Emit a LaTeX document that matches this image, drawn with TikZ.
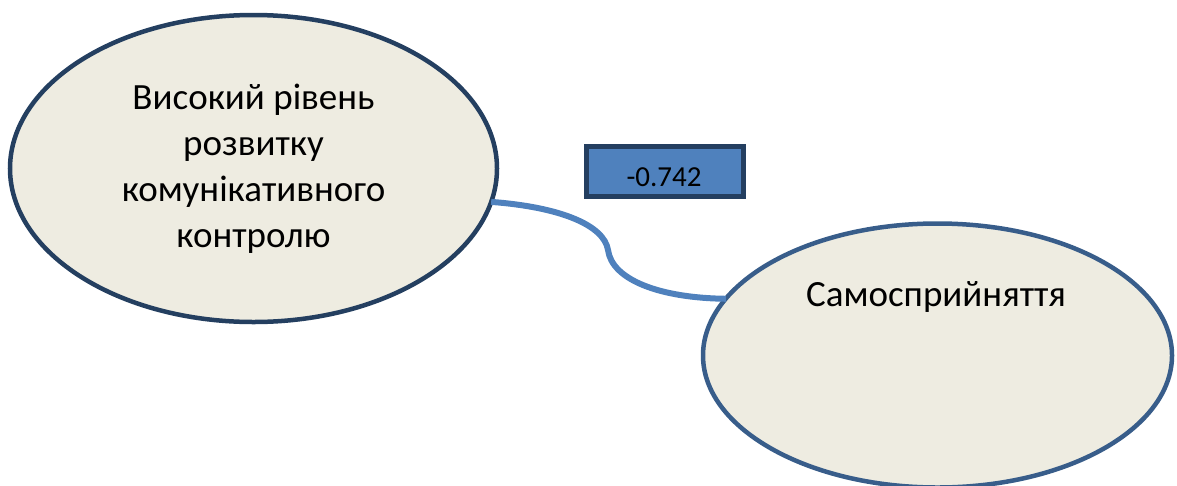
\documentclass[tikz,border=0pt]{standalone}
\usepackage{fontspec}
\setmainfont{Carlito}
\usetikzlibrary{shapes.geometric}
\definecolor{ellfill}{HTML}{EEECE1}
\definecolor{navy}{HTML}{243F60}
\definecolor{midblue}{HTML}{385D8A}
\definecolor{accent}{HTML}{4F81BD}
\tikzset{
  bubble/.style={ellipse, fill=ellfill, line width=4.5pt, inner sep=0pt, outer sep=0pt},
  valbox/.style={rectangle, fill=accent, draw=navy, line width=4.5pt, inner sep=0pt, outer sep=0pt, minimum width=157pt, minimum height=50pt},
  link/.style={draw=accent, line width=6pt},
  bigtext/.style={font=\fontsize{37}{46}\selectfont, align=center, text=black}
}
\begin{document}
\begin{tikzpicture}[x=1pt,y=-1pt]
\useasboundingbox (0,0) rectangle (1177,485);
\node[bubble, draw=navy, minimum width=487pt, minimum height=307pt, bigtext] (L) at (253.5,168.5)
  {Високий рівень\\розвитку\\комунікативного\\контролю};
\node[bubble, draw=midblue, minimum width=469pt, minimum height=264pt] (R) at (937.5,355.5) {};
\node[bigtext, anchor=base] (Rt) at (936,306) {Самосприйняття};
\node[valbox] (V) at (665,171.5) {};
\node[font=\fontsize{29}{32}\selectfont, anchor=base] (Vt) at (664,186) {-0.742};
\draw[link] (L.-8.6) .. controls (560,207) and (604,225) .. (608,250)
  .. controls (612,280) and (660,298) .. (R.165);
\end{tikzpicture}
\end{document}
